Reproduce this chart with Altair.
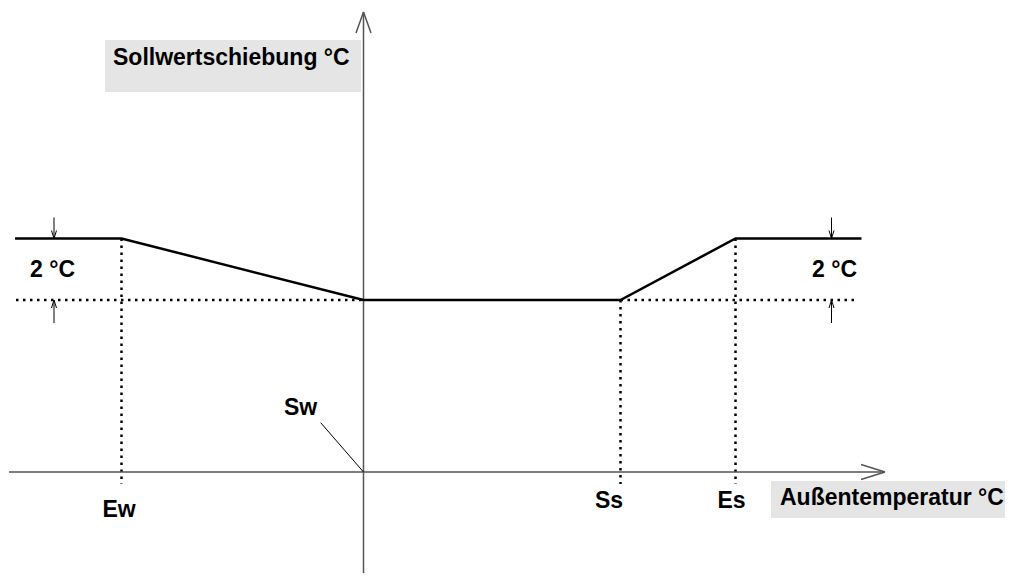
import altair as alt
import pandas as pd

# Schematic coordinates: x = outdoor temperature (Sw at 0), y = setpoint shift (0 on the x axis)
point_names = ["Ew", "Sw", "Ss", "Es"]
point_x = [-242, 0, 257, 372]
level_low = 172
level_high = 233.5

curve_x = [-348.5, -242, 0, 257, 372, 498]
curve_y = [233.5, 233.5, 172, 172, 233.5, 233.5]

axis_x_span = [-354.5, 521.5]
axis_y_span = [460, -110]
axis_below = -12

dim_x = [-309.5, 468]

label_text = ["Ew", "Ss", "Es", "Sw", "2 °C", "2 °C"]
label_x = [-244.5, 245.5, 368, -79.5, -333.5, 493.5]
label_y = [-45, -36, -36, 57, 195, 195]
label_align = ["center", "center", "center", "left", "left", "right"]

title_y_text = "Sollwertschiebung °C"
title_y_box = [-258.5, -2.5, 380, 432]
title_y_pos = [-250.5, 407]
title_x_text = "Außentemperatur °C"
title_x_box = [407.5, 660, -46, -9]
title_x_pos = [416.5, -33]

X_DOMAIN = [-355.5, 641.5]
Y_DOMAIN = [-101, 464]
xs = alt.Scale(domain=X_DOMAIN, zero=False, nice=False)
ys = alt.Scale(domain=Y_DOMAIN, zero=False, nice=False)

FONT = "Liberation Sans"
FS = 23


def segs(rows):
    return pd.DataFrame(rows, columns=["x", "y", "x2", "y2"])


def seg_layer(df, color, width, dash=None):
    kw = dict(color=color, strokeWidth=width, clip=True)
    if dash:
        kw["strokeDash"] = dash
    return alt.Chart(df).mark_rule(**kw).encode(
        x=alt.X("x:Q", scale=xs, axis=None),
        y=alt.Y("y:Q", scale=ys, axis=None),
        x2="x2:Q",
        y2="y2:Q",
    )


ew, sw, ss, es = point_x

# axes with open arrowheads
axis_df = segs([
    (axis_x_span[0], 0, axis_x_span[1], 0),
    (0, axis_y_span[0], 0, axis_y_span[1]),
    (-7.5, axis_y_span[0] - 21, 0, axis_y_span[0]),
    (7.5, axis_y_span[0] - 21, 0, axis_y_span[0]),
    (axis_x_span[1] - 24, 7.5, axis_x_span[1], 0),
    (axis_x_span[1] - 24, -7.5, axis_x_span[1], 0),
])

# dotted helper lines
dot_df = segs([
    (curve_x[0] + 1, level_low, sw, level_low),
    (ss, level_low, 494.5, level_low),
    (ew, level_high, ew, axis_below),
    (ss, level_low, ss, axis_below),
    (es, level_high, es, axis_below),
])

# thin lines: Sw leader and 2 °C dimension arrows
thin_rows = [(-42.8, 49.3, 0, 0)]
for dx in dim_x:
    thin_rows += [
        (dx, level_high + 21, dx, level_high),
        (dx - 2.5, level_high + 8, dx, level_high),
        (dx + 2.5, level_high + 8, dx, level_high),
        (dx, level_low - 23, dx, level_low),
        (dx - 2.5, level_low - 8, dx, level_low),
        (dx + 2.5, level_low - 8, dx, level_low),
    ]
thin_df = segs(thin_rows)

curve_df = pd.DataFrame({"x": curve_x, "y": curve_y, "o": range(len(curve_x))})
curve = alt.Chart(curve_df).mark_line(color="black", strokeWidth=2.5).encode(
    x=alt.X("x:Q", scale=xs, axis=None),
    y=alt.Y("y:Q", scale=ys, axis=None),
    order="o:Q",
)

boxes_df = pd.DataFrame([title_y_box, title_x_box], columns=["x", "x2", "y", "y2"])
boxes = alt.Chart(boxes_df).mark_rect(color="#e5e5e5", clip=True).encode(
    x=alt.X("x:Q", scale=xs, axis=None),
    x2="x2:Q",
    y=alt.Y("y:Q", scale=ys, axis=None),
    y2="y2:Q",
)

titles_df = pd.DataFrame({
    "t": [title_y_text, title_x_text],
    "x": [title_y_pos[0], title_x_pos[0]],
    "y": [title_y_pos[1], title_x_pos[1]],
})
titles = alt.Chart(titles_df).mark_text(
    font=FONT, fontSize=FS, fontWeight="bold", align="left", baseline="alphabetic", color="black"
).encode(
    x=alt.X("x:Q", scale=xs, axis=None),
    y=alt.Y("y:Q", scale=ys, axis=None),
    text="t:N",
)

labels_df = pd.DataFrame({"t": label_text, "x": label_x, "y": label_y, "a": label_align})
label_layers = []
for a in ["left", "center", "right"]:
    sub = labels_df[labels_df["a"] == a]
    label_layers.append(
        alt.Chart(sub).mark_text(
            font=FONT, fontSize=FS, fontWeight="bold", align=a, baseline="alphabetic", color="black"
        ).encode(
            x=alt.X("x:Q", scale=xs, axis=None),
            y=alt.Y("y:Q", scale=ys, axis=None),
            text="t:N",
        )
    )

chart = alt.layer(
    boxes,
    seg_layer(dot_df, "black", 2.5, [2.5, 4.5]),
    seg_layer(axis_df, "#555555", 1.5),
    seg_layer(thin_df, "black", 1),
    curve,
    titles,
    *label_layers,
).properties(
    width=997,
    height=565,
    padding=0,
    autosize=alt.AutoSizeParams(type="none"),
    background="white",
).configure_view(stroke=None)

chart.save("out.html", embed_options={"renderer": "svg", "actions": False})
